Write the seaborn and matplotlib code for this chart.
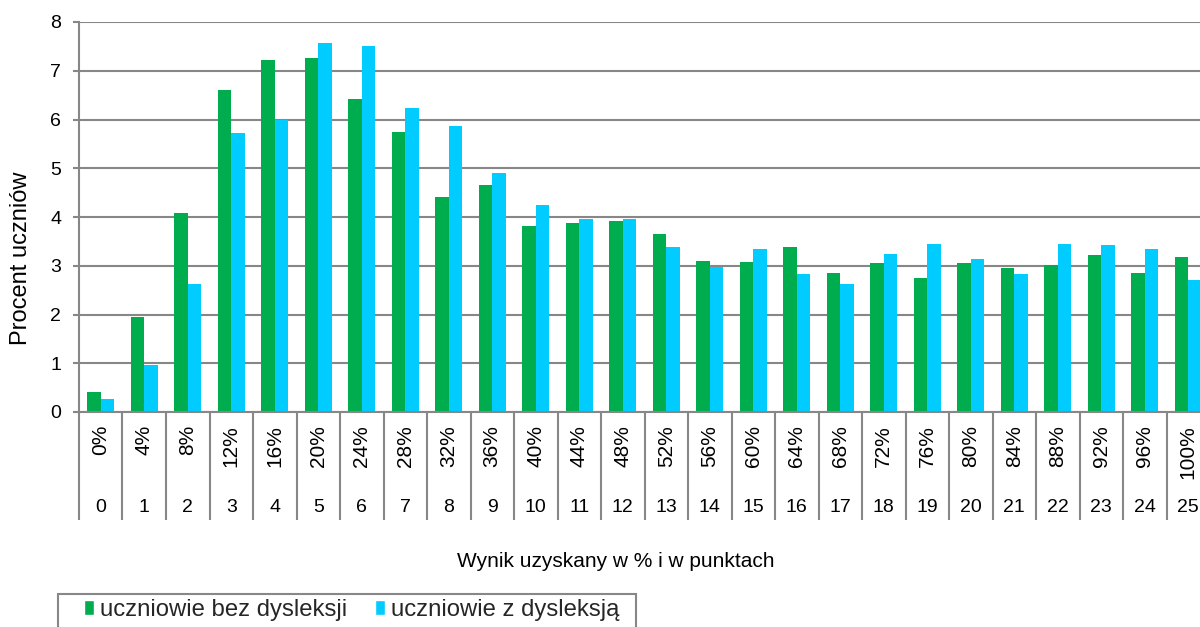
import matplotlib
matplotlib.use("Agg")
import matplotlib.pyplot as plt
import seaborn as sns
import pandas as pd
import numpy as np
from matplotlib.patches import Rectangle, Patch

# ---- data ----
points = ["0", "1", "2", "3", "4", "5", "6", "7", "8", "9", "10", "11", "12",
          "13", "14", "15", "16", "17", "18", "19", "20", "21", "22", "23", "24", "25"]
percent_labels = ["0%", "4%", "8%", "12%", "16%", "20%", "24%", "28%", "32%", "36%",
                  "40%", "44%", "48%", "52%", "56%", "60%", "64%", "68%", "72%",
                  "76%", "80%", "84%", "88%", "92%", "96%", "100%"]
series_names = ["uczniowie bez dysleksji", "uczniowie z dysleksją"]
bez_dysleksji = [0.41, 1.94, 4.08, 6.61, 7.23, 7.27, 6.42, 5.75, 4.42, 4.66, 3.82, 3.87, 3.92,
                 3.66, 3.10, 3.08, 3.38, 2.85, 3.06, 2.74, 3.05, 2.95, 3.02, 3.23, 2.86, 3.17]
z_dysleksja = [0.27, 0.97, 2.63, 5.73, 5.98, 7.56, 7.51, 6.24, 5.86, 4.91, 4.24, 3.95, 3.95,
               3.38, 2.97, 3.34, 2.84, 2.63, 3.25, 3.45, 3.13, 2.84, 3.45, 3.42, 3.34, 2.71]
y_ticks = [0, 1, 2, 3, 4, 5, 6, 7, 8]

GREEN = "#00AD4E"
CYAN = "#00CCFF"
GRAY = "#878787"

df = pd.DataFrame({
    "pkt": points + points,
    "val": bez_dysleksji + z_dysleksja,
    "grupa": [series_names[0]] * len(points) + [series_names[1]] * len(points),
})

sns.set_theme(style="white")
plt.rcParams["font.family"] = ["Liberation Sans", "DejaVu Sans"]

fig = plt.figure(figsize=(12, 6.27), dpi=100)
ax = fig.add_axes([79 / 1200, 1 - 412 / 627, 1131 / 1200, 390 / 627])

sns.barplot(data=df, x="pkt", y="val", hue="grupa", order=points,
            hue_order=series_names, palette=[GREEN, CYAN], width=0.62,
            saturation=1, legend=False, ax=ax, linewidth=0)

ax.set_xlim(-0.5, len(points) - 0.5)
ax.set_ylim(0, 8)
ax.set_yticks(y_ticks)
ax.grid(axis="y", color=GRAY, lw=1.5)
ax.grid(axis="x", visible=False)
ax.set_axisbelow(True)
for s in ["top", "right"]:
    ax.spines[s].set_visible(False)
for s in ["left", "bottom"]:
    ax.spines[s].set_color(GRAY)
    ax.spines[s].set_linewidth(1.5)

ax.tick_params(axis="y", length=4.3, width=1.5, color=GRAY, pad=8.6,
               labelsize=14, labelcolor="black", left=True)
ax.set_xticks(range(len(points)))
ax.set_xticklabels(percent_labels, rotation=90, fontsize=15, color="black")
ax.tick_params(axis="x", length=0, pad=9.4)

xt = ax.get_xaxis_transform()
for i, p in enumerate(points):
    ax.text(i, -0.2436, p, transform=xt, ha="center", va="center", fontsize=14, color="black")
ax.vlines(np.arange(len(points) + 1) - 0.5, -0.277, 0, transform=xt,
          colors=GRAY, lw=1.5, clip_on=False)

ax.set_ylabel("Procent uczniów", fontsize=17, color="black")
ax.yaxis.set_label_coords(-0.0416, 0.395)
ax.set_xlabel("Wynik uzyskany w % i w punktach", fontsize=15, color="black")
ax.xaxis.set_label_coords(0.4748, -0.360)

handles = [Patch(facecolor=GREEN, label=series_names[0]),
           Patch(facecolor=CYAN, label=series_names[1])]
fig.legend(handles=handles, loc="upper left", bbox_to_anchor=(84 / 1200, 1 - 599 / 627),
           ncol=2, frameon=False, fontsize=17.2, handlelength=0.42, handleheight=0.55,
           handletextpad=0.25, columnspacing=1.15, borderpad=0, borderaxespad=0)
fig.add_artist(Rectangle((58 / 1200, -0.05), (636 - 58) / 1200, (1 - 594 / 627) + 0.05,
                         transform=fig.transFigure, fill=False, edgecolor=GRAY, lw=1.5))

fig.savefig("out.png", dpi=100)
